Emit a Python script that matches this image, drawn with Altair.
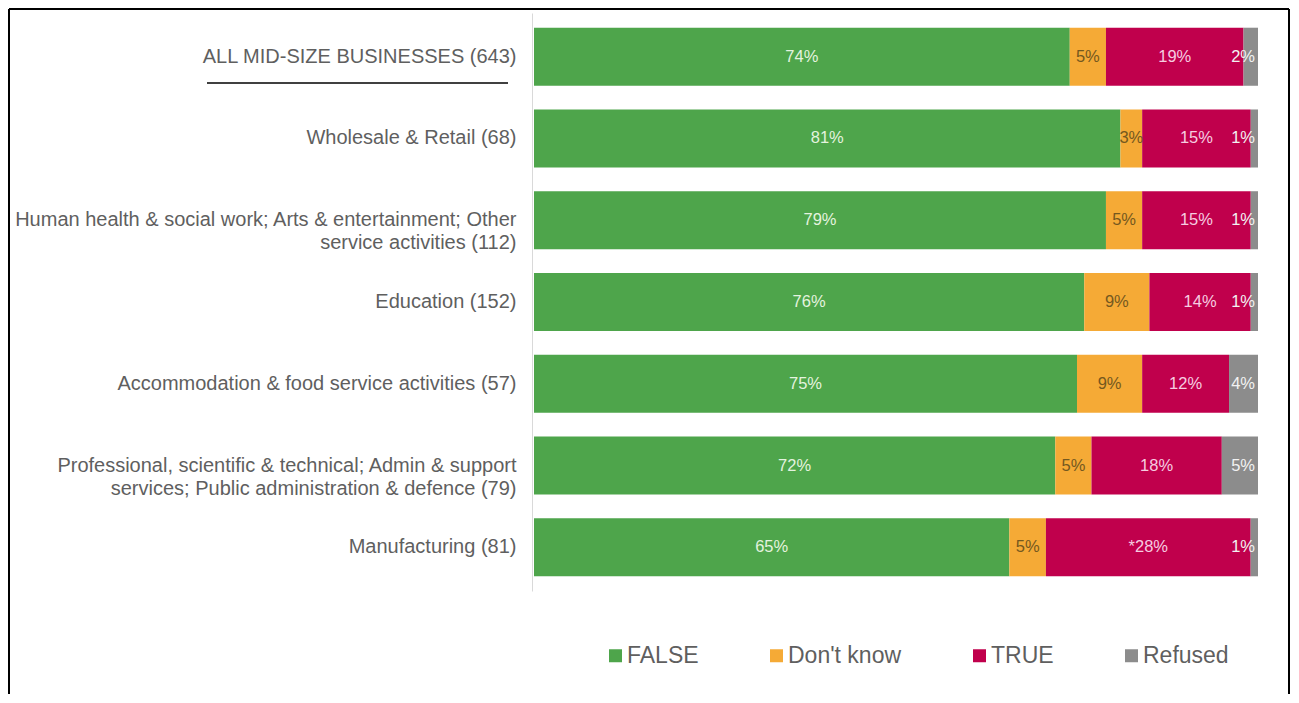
import altair as alt
import pandas as pd

categories = [
    "ALL MID-SIZE BUSINESSES (643)",
    "Wholesale & Retail (68)",
    "Human health & social work; Arts & entertainment; Other|service activities (112)",
    "Education (152)",
    "Accommodation & food service activities (57)",
    "Professional, scientific & technical; Admin & support|services; Public administration & defence (79)",
    "Manufacturing (81)",
]
series_names = ["FALSE", "Don't know", "TRUE", "Refused"]
false_vals = [74, 81, 79, 76, 75, 72, 65]
dontknow_vals = [5, 3, 5, 9, 9, 5, 5]
true_vals = [19, 15, 15, 14, 12, 18, 28]
refused_vals = [2, 1, 1, 1, 4, 5, 1]
true_marks = ["", "", "", "", "", "", "*"]

bar_colors = ["#4ea54b", "#f5aa36", "#c0004c", "#8c8c8c"]
text_colors = {"FALSE": "#e4f3df", "Don't know": "#74581f", "TRUE": "#f6cde0", "Refused": "#f2f2f2"}

rows = []
all_vals = [false_vals, dontknow_vals, true_vals, refused_vals]
for i, cat in enumerate(categories):
    for j, s in enumerate(series_names):
        v = all_vals[j][i]
        prefix = true_marks[i] if s == "TRUE" else ""
        rows.append({"category": cat, "series": s, "order": j, "value": v,
                     "label": f"{prefix}{v}%", "tcolor": text_colors[s]})
df = pd.DataFrame(rows)

FONT = "Liberation Sans"

base = alt.Chart(df).transform_stack(
    stack="value", groupby=["category"], as_=["x0", "x1"],
    sort=[alt.SortField("order", order="ascending")], offset="normalize"
).transform_calculate(mid="(datum.x0 + datum.x1) / 2")

y_enc = alt.Y(
    "category:N", sort=categories, title=None,
    scale=alt.Scale(paddingInner=0.29, paddingOuter=0.18),
    axis=alt.Axis(labelFont=FONT, labelFontSize=20, labelColor="#5f5f5f",
                  labelExpr="split(datum.label, '|')", labelLineHeight=23,
                  ticks=False, tickSize=0, labelPadding=16, offset=2,
                  domainColor="#d9d9d9", domainWidth=1, labelLimit=600),
)
x_scale = alt.Scale(domain=[0, 1], nice=False)

bars = base.mark_bar().encode(
    y=y_enc,
    x=alt.X("x0:Q", scale=x_scale, axis=None),
    x2="x1:Q",
    color=alt.Color("series:N", scale=alt.Scale(domain=series_names, range=bar_colors),
                    sort=series_names,
                    legend=alt.Legend(title=None, orient="none", legendX=70, legendY=631,
                                      direction="horizontal", columnPadding=66,
                                      symbolType="square", symbolSize=169,
                                      symbolStrokeWidth=0, labelFont=FONT, labelFontSize=23,
                                      labelColor="#5f5f5f", labelOffset=0, padding=0)),
    order=alt.Order("order:Q"),
)

txt_center = base.transform_filter("datum.series != 'Refused'").mark_text(
    font=FONT, fontSize=16.5, align="center", baseline="middle"
).encode(
    y=y_enc, x=alt.X("mid:Q", scale=x_scale, axis=None),
    text="label:N", color=alt.Color("tcolor:N", scale=None),
)

txt_right = base.transform_filter("datum.series == 'Refused'").mark_text(
    font=FONT, fontSize=16.5, align="right", baseline="middle", dx=-3
).encode(
    y=y_enc, x=alt.X("x1:Q", scale=x_scale, axis=None),
    text="label:N", color=alt.Color("tcolor:N", scale=None),
)

one = pd.DataFrame({"k": [0]})
underline = alt.Chart(one).mark_rule(color="#404040", strokeWidth=2).encode(
    x=alt.value(-327), x2=alt.value(-26), y=alt.value(70))
border_left = alt.Chart(one).mark_rule(color="black", strokeWidth=2).encode(
    x=alt.value(-525), y=alt.value(-4), y2=alt.value(681))
border_top = alt.Chart(one).mark_rule(color="black", strokeWidth=2).encode(
    x=alt.value(-525), x2=alt.value(755), y=alt.value(-4))
border_right = alt.Chart(one).mark_rule(color="black", strokeWidth=2).encode(
    x=alt.value(755), y=alt.value(-4), y2=alt.value(681))

chart = alt.layer(
    bars, txt_center, txt_right, underline, border_left, border_top, border_right
).properties(
    width=724, height=578, padding=0, background="white"
).configure_view(strokeWidth=0)

chart.save("out.html", embed_options={"renderer": "svg", "actions": False})
